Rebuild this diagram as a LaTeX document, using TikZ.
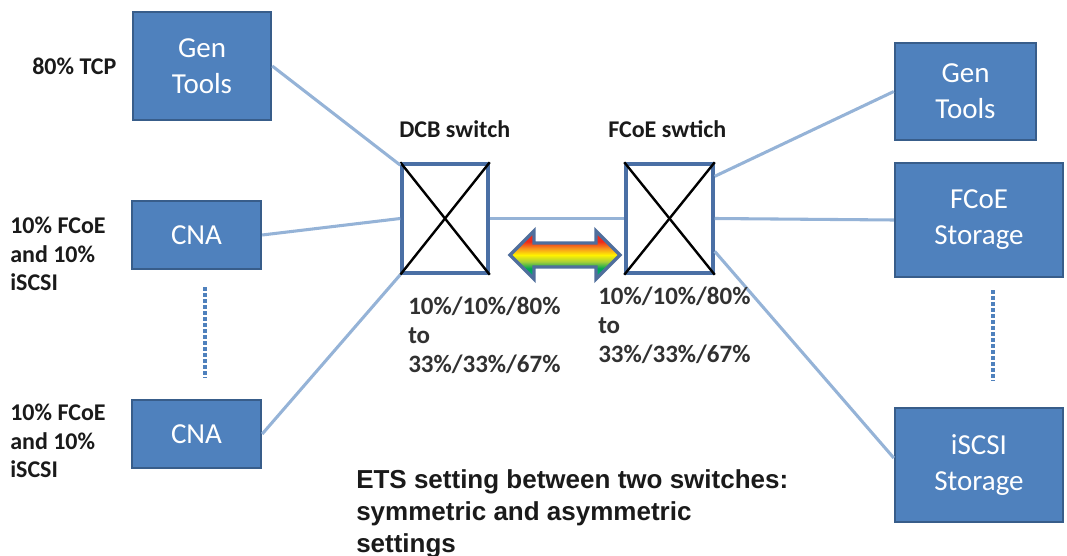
\documentclass[tikz,border=0pt]{standalone}
\usepackage{fontspec}
\setmainfont{Carlito}
\newfontfamily\arialfont{Liberation Sans}
\usetikzlibrary{calc}
\definecolor{boxfill}{HTML}{4F81BD}
\definecolor{boxline}{HTML}{385D8A}
\definecolor{linkcol}{HTML}{95B3D7}
\definecolor{swline}{HTML}{4A6FA5}
\definecolor{arrline}{HTML}{4F6E9C}
\definecolor{txtcol}{HTML}{1A1A1A}
\definecolor{rbred}{HTML}{EE2A1B}
\definecolor{rborange}{HTML}{F7941D}
\definecolor{rbyellow}{HTML}{FFF200}
\definecolor{rbygreen}{HTML}{A6CE39}
\definecolor{rbgreen}{HTML}{00A651}
\definecolor{rbteal}{HTML}{00A99D}
\pgfdeclareverticalshading{rainbow}{100bp}{color(0bp)=(rbteal); color(25bp)=(rbteal); color(36bp)=(rbgreen); color(43bp)=(rbygreen); color(50bp)=(rbyellow); color(57bp)=(rborange); color(64bp)=(rbred); color(75bp)=(rbred); color(100bp)=(rbred)}
\tikzset{
  bluebox/.style={draw=boxline, line width=1.8pt, fill=boxfill, text=white, align=center,
    font=\fontsize{21.75pt}{27pt}\selectfont, inner sep=0pt},
  switchbox/.style={draw=swline, line width=2.6pt, fill=white, inner sep=0pt,
    minimum width=64.5pt, minimum height=81.75pt},
  link/.style={draw=linkcol, line width=2.3pt},
  dotline/.style={draw=boxfill, line width=3pt, dash pattern=on 3pt off 1.5pt},
  sidelabel/.style={text=txtcol, align=left, anchor=north west, inner sep=0pt,
    font=\bfseries\fontsize{18pt}{21.4pt}\selectfont},
  pctlabel/.style={text=txtcol!90, align=left, anchor=north west, inner sep=0pt,
    font=\bfseries\fontsize{18.75pt}{21.75pt}\selectfont},
}
\begin{document}
\begin{tikzpicture}[x=0.75pt,y=-0.75pt]
\useasboundingbox (0,0) rectangle (1067,556);
% boxes
\node[bluebox, minimum width=103.5pt, minimum height=81pt] (gtl) at (202,66) {Gen\\Tools};
\node[bluebox, minimum width=96.75pt, minimum height=51pt] (cna1) at (196.5,235) {CNA};
\node[bluebox, minimum width=96.75pt, minimum height=51pt] (cna2) at (196.5,434) {CNA};
\node[bluebox, minimum width=105.75pt, minimum height=72.75pt] (gtr) at (965.5,91.5) {Gen\\Tools};
\node[bluebox, minimum width=126pt, minimum height=85.5pt] (fst) at (979,220) {FCoE\\Storage};
\node[bluebox, minimum width=126pt, minimum height=85.5pt] (ist) at (979,465) {iSCSI\\Storage};
% switches
\node[switchbox] (dcb) at (445,218.5) {};
\node[switchbox, minimum width=65.25pt] (fsw) at (669.5,218.5) {};
\foreach \s in {dcb,fsw}{
  \draw[black, line width=1.8pt] (\s.north west) -- (\s.south east);
  \draw[black, line width=1.8pt] (\s.north east) -- (\s.south west);
}
% links
\draw[link] (gtl.east) -- (dcb.130);
\draw[link] (cna1.east) -- (dcb.west);
\draw[link] (cna2.east) -- (dcb.south west);
\draw[link] (dcb.east) -- (fsw.west);
\draw[link] (fsw.43) -- (gtr.west);
\draw[link] (fsw.east) -- (fst.west);
\draw[link] (fsw.-36) -- ($(ist.west)+(0,-7)$);
% dotted continuation lines
\coordinate (dl1) at (205,287);
\coordinate (dl2) at (205,378);
\coordinate (dr1) at (993,290);
\coordinate (dr2) at (993,381);
\draw[dotline] (dl1) -- (dl2);
\draw[dotline] (dr1) -- (dr2);
% rainbow double arrow
\coordinate (al) at (510,255);
\coordinate (ar) at (620,255);
\shadedraw[shading=rainbow, draw=arrline, line width=2.6pt, line join=miter]
  (al) -- (534,231) -- (534,243) -- (596,243) -- (596,231) -- (ar)
  -- (596,279) -- (596,267) -- (534,267) -- (534,279) -- cycle;
% labels
\node[sidelabel] (ltcp) at (32,58) {80\% TCP};
\node[sidelabel] (lcna1) at (10,217) {10\% FCoE\\and 10\%\\iSCSI};
\node[sidelabel] (lcna2) at (10,404) {10\% FCoE\\and 10\%\\iSCSI};
\node[sidelabel] (ldcb) at (399,120) {DCB switch};
\node[sidelabel] (lfsw) at (608,120) {FCoE swtich};
\node[pctlabel] (pl) at (408,297) {10\%/10\%/80\%\\to\\33\%/33\%/67\%};
\node[pctlabel] (pr) at (598,287) {10\%/10\%/80\%\\to\\33\%/33\%/67\%};
\node[text=txtcol, align=left, anchor=north west, inner sep=0pt,
  font=\arialfont\bfseries\fontsize{19.5pt}{24pt}\selectfont] (ets) at (356,469)
  {ETS setting between two switches:\\symmetric and asymmetric\\settings};
\end{tikzpicture}
\end{document}
